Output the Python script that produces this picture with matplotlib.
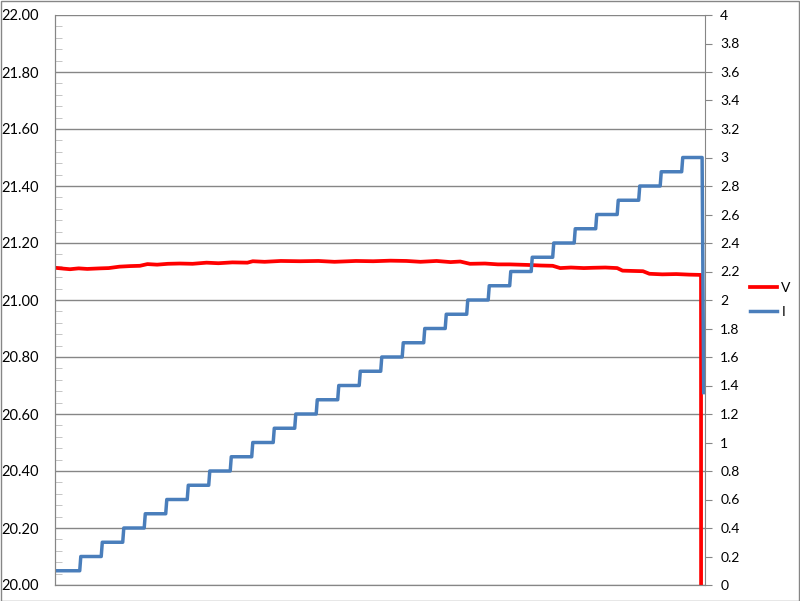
import matplotlib.pyplot as plt
import matplotlib.patches as patches

# current steps (A) and the sample index where each step starts
i_levels = [0.1, 0.2, 0.3, 0.4, 0.5, 0.6, 0.7, 0.8, 0.9, 1.0,
            1.1, 1.2, 1.3, 1.4, 1.5, 1.6, 1.7, 1.8, 1.9, 2.0,
            2.1, 2.2, 2.3, 2.4, 2.5, 2.6, 2.7, 2.8, 2.9, 3.0]
i_starts = [0, 24, 44, 64, 84, 104, 124, 144, 164, 184,
            204, 224, 244, 264, 284, 304, 324, 344, 364, 384,
            404, 424, 444, 464, 484, 504, 524, 544, 564, 584]
i_end = 602
i_final = (603.5, 1.35)

# voltage readings (V)
v_samples = [0, 8, 14, 22, 30, 42, 50, 60, 70, 79, 86, 95, 105, 116, 128,
             141, 152, 165, 179, 184, 195, 210, 228, 245, 260, 280, 296, 312,
             327, 340, 355, 368, 377, 386, 400, 412, 423, 440, 452, 463, 470,
             480, 492, 500, 512, 523, 528, 537, 547, 553, 565, 578, 590, 601, 602]
v_values = [21.113, 21.110, 21.108, 21.111, 21.109, 21.111, 21.112, 21.117, 21.119,
            21.120, 21.126, 21.124, 21.127, 21.128, 21.127, 21.131, 21.129, 21.132,
            21.131, 21.136, 21.134, 21.137, 21.136, 21.137, 21.134, 21.137, 21.136,
            21.138, 21.137, 21.134, 21.137, 21.133, 21.135, 21.127, 21.128, 21.125,
            21.125, 21.123, 21.121, 21.120, 21.112, 21.114, 21.112, 21.113, 21.114,
            21.112, 21.103, 21.102, 21.101, 21.092, 21.090, 21.091, 21.089, 21.088, 0.0]

grey = '#868686'
red = '#FF0000'
blue = '#4A7EBB'
plt.rcParams['font.family'] = ['Lato', 'DejaVu Sans']

fig = plt.figure(figsize=(8, 6.01), dpi=100)
ax = fig.add_axes([55 / 800, 16 / 601, 650 / 800, 570 / 601])
ax2 = ax.twinx()

# build step line for current
ix, iy = [], []
ends = i_starts[1:] + [i_end]
for s, e, lv in zip(i_starts, ends, i_levels):
    ix += [s, e - 1 if e != i_end else e]
    iy += [lv, lv]
ix.append(i_final[0])
iy.append(i_final[1])

ax.plot(v_samples, v_values, color=red, lw=2.7, solid_joinstyle='round')
ax2.plot(ix, iy, color=blue, lw=2.5, solid_joinstyle='round')

ax.set_xlim(0, 604.7)
ax.set_ylim(20, 22)
ax2.set_ylim(0, 4)

ax.set_yticks([20 + 0.2 * k for k in range(11)])
ax.set_yticklabels(['%.2f' % (20 + 0.2 * k) for k in range(11)])
ax.set_yticks([20 + 0.04 * k for k in range(51)], minor=True)
ax2.set_yticks([0.2 * k for k in range(21)])
ax2.set_yticklabels(['%g' % round(0.2 * k, 1) for k in range(21)])
ax.set_xticks([])

ax.grid(axis='y', which='major', color=grey, lw=1)
ax.set_axisbelow(True)
ax.tick_params(axis='y', which='major', length=0, pad=12, labelsize=10.5)
ax.tick_params(axis='y', which='minor', direction='in', length=5, color='#bbbbbb')
ax2.tick_params(axis='y', which='major', direction='out', length=5, color=grey,
                pad=6, labelsize=10)

for a in (ax, ax2):
    for sp in a.spines.values():
        sp.set_color(grey)
    a.spines['top'].set_visible(False)
ax.spines['right'].set_visible(False)

handles = [plt.Line2D([], [], color=red, lw=2.7), plt.Line2D([], [], color=blue, lw=2.5)]
fig.legend(handles, ['V', 'I'], loc='center left', bbox_to_anchor=(737 / 800, 1 - 300 / 601),
           frameon=False, fontsize=10, handlelength=2.0, handletextpad=0.3, labelspacing=0.9)

fig.patches.append(patches.Rectangle((0.5 / 800, 0.5 / 601), 798.5 / 800, 599.5 / 601,
                                     transform=fig.transFigure, fill=False,
                                     edgecolor=grey, lw=1))

fig.savefig('out.png', dpi=100)
